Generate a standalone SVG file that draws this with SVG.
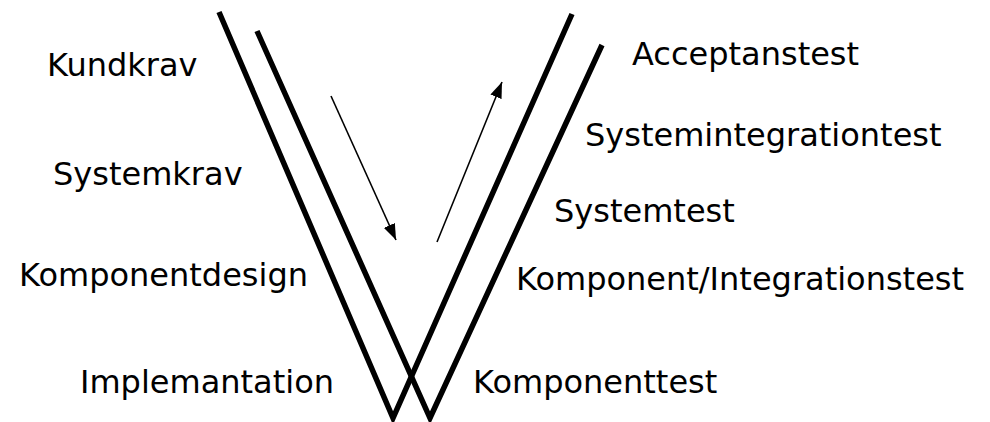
<svg xmlns="http://www.w3.org/2000/svg" width="990" height="422" viewBox="0 0 990 422">
<defs>
<style>
.v{stroke:#000;stroke-width:5.5;fill:none;stroke-linecap:butt;stroke-linejoin:miter}
.a{stroke:#000;stroke-width:1.6;fill:none}
text{font-family:"DejaVu Sans","Liberation Sans",sans-serif;font-size:32px;fill:#000}
</style>
<marker id="ah2" viewBox="0 0 16 12" refX="16" refY="6" markerWidth="16" markerHeight="12" markerUnits="userSpaceOnUse" orient="auto">
<path d="M0,0 L16,6 L0,12 z" fill="#000"/>
</marker>
</defs>
<g id="connectors">
<polyline class="v" points="219,12 393,418 572,14"/>
<polyline class="v" points="257,31 430,418 602,45"/>
<line class="a" x1="331" y1="96" x2="396" y2="240" marker-end="url(#ah2)"/>
<line class="a" x1="437" y1="242" x2="502" y2="82" marker-end="url(#ah2)"/>
</g>
<g id="kundkrav"><text x="47" y="76">Kundkrav</text></g>
<g id="systemkrav"><text x="53" y="185">Systemkrav</text></g>
<g id="komponentdesign"><text x="19" y="286">Komponentdesign</text></g>
<g id="implemantation"><text x="80" y="393">Implemantation</text></g>
<g id="acceptanstest"><text x="632" y="65">Acceptanstest</text></g>
<g id="systemintegrationtest"><text x="585" y="146">Systemintegrationtest</text></g>
<g id="systemtest"><text x="554" y="222">Systemtest</text></g>
<g id="komponentintegrationstest"><text x="516" y="290">Komponent/Integrationstest</text></g>
<g id="komponenttest"><text x="473" y="393">Komponenttest</text></g>
</svg>
